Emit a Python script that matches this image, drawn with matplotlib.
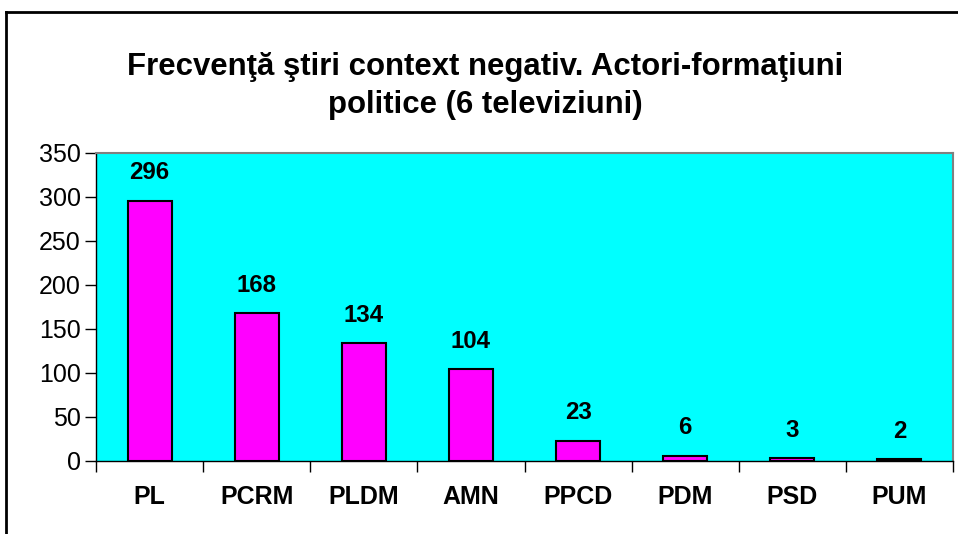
import matplotlib
matplotlib.use("Agg")
import matplotlib.pyplot as plt
from matplotlib.lines import Line2D

categories = ["PL", "PCRM", "PLDM", "AMN", "PPCD", "PDM", "PSD", "PUM"]
values = [296, 168, 134, 104, 23, 6, 3, 2]
yticks = [0, 50, 100, 150, 200, 250, 300, 350]
title = "Frecvenţă ştiri context negativ. Actori-formaţiuni\npolitice (6 televiziuni)"

plt.rcParams['font.family'] = ['Liberation Sans', 'DejaVu Sans']

W, H = 958, 534
fig = plt.figure(figsize=(W / 100, H / 100), dpi=100)
fig.patch.set_facecolor("white")

L, R, T, B = 96, 953, 153, 461
ax = fig.add_axes([L / W, 1 - B / H, (R - L) / W, (B - T) / H])
ax.set_facecolor("#00FFFF")

x = list(range(len(categories)))
bars = ax.bar(x, values, width=0.41, color="#FF00FF", edgecolor="black", linewidth=1.5, zorder=3)
ax.set_xlim(-0.5, len(categories) - 0.5)
ax.set_ylim(0, 350)
ax.set_yticks(yticks)
ax.set_yticklabels([str(v) for v in yticks], fontsize=18)
ax.tick_params(axis='y', direction='out', length=8, width=1, pad=3)

ax.set_xticks([i - 0.5 for i in range(len(categories) + 1)])
ax.set_xticklabels([])
ax.tick_params(axis='x', direction='out', length=8, width=1)
for i, c in enumerate(categories):
    ax.annotate(c, xy=(i, 0), xycoords=('data', 'axes fraction'), xytext=(0, -26),
                textcoords='offset points', ha='center', va='center',
                fontsize=18, fontweight='bold')

for i, v in enumerate(values):
    ax.annotate(str(v), xy=(i, v), xytext=(0, 20), textcoords='offset points',
                ha='center', va='center', fontsize=17.3, fontweight='bold')

for s in ['top', 'right']:
    ax.spines[s].set_color('#808080')
    ax.spines[s].set_linewidth(1.5)
for s in ['left', 'bottom']:
    ax.spines[s].set_color('black')
    ax.spines[s].set_linewidth(1)

fig.text(485 / W, 1 - 86 / H, title, ha='center', va='center', fontsize=22.4,
         fontweight='bold', linespacing=1.33)

# outer chart border (left and top visible)
fig.add_artist(Line2D([6 / W, 6 / W], [0, 1 - 12 / H], transform=fig.transFigure, color='black', linewidth=2))
fig.add_artist(Line2D([6 / W, 1], [1 - 12 / H, 1 - 12 / H], transform=fig.transFigure, color='black', linewidth=2))

fig.savefig("out.png", dpi=100)
